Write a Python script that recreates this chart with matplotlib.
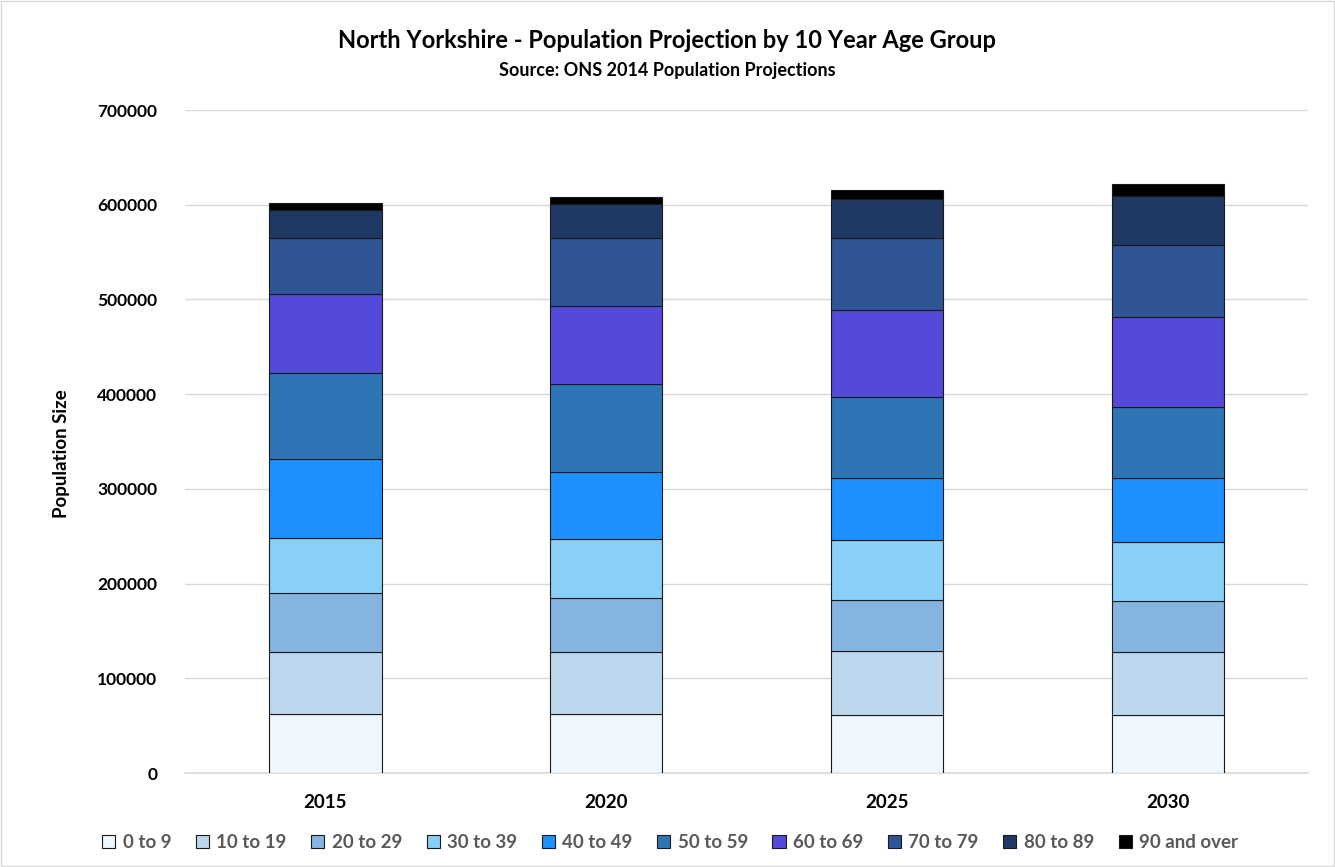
import matplotlib
matplotlib.use("Agg")
import matplotlib.pyplot as plt
import numpy as np
from matplotlib.patches import Rectangle

plt.rcParams["font.family"] = ["Lato", "DejaVu Sans"]

# Data
years = ["2015", "2020", "2025", "2030"]
age_groups = ["0 to 9", "10 to 19", "20 to 29", "30 to 39", "40 to 49",
              "50 to 59", "60 to 69", "70 to 79", "80 to 89", "90 and over"]
age_0_9 = [62600, 62000, 60900, 60900]
age_10_19 = [65500, 65400, 68200, 67200]
age_20_29 = [61700, 57300, 53200, 53200]
age_30_39 = [58700, 62600, 64000, 62300]
age_40_49 = [82800, 70100, 65200, 67900]
age_50_59 = [91100, 92900, 85500, 74700]
age_60_69 = [83100, 83000, 91900, 95300]
age_70_79 = [59400, 71500, 76000, 76300]
age_80_89 = [29900, 35600, 40900, 51700]
age_90_plus = [7400, 8000, 9800, 12300]

series = [age_0_9, age_10_19, age_20_29, age_30_39, age_40_49,
          age_50_59, age_60_69, age_70_79, age_80_89, age_90_plus]

colors = ["#EEF6FE", "#BDD7EE", "#85B4E0", "#89CFF8", "#1E90FF",
          "#2E75B6", "#534AD9", "#2F5597", "#203864", "#000000"]

fig = plt.figure(figsize=(13.35, 8.67), dpi=100)
ax = fig.add_axes([0.1386, 0.1084, 0.8414, 0.7647])

x = np.arange(len(years))
bottom = np.zeros(len(years))
for vals, col, lab in zip(series, colors, age_groups):
    ax.bar(x, vals, 0.40, bottom=bottom, color=col, edgecolor="#1a1a1a",
           linewidth=0.8, label=lab, zorder=3)
    bottom += np.array(vals)

ax.set_xlim(-0.5, 3.5)
ax.set_ylim(0, 700000)
ax.set_yticks(np.arange(0, 700001, 100000))
ax.set_xticks(x)
ax.set_xticklabels(years)
ax.tick_params(axis="both", length=0)
ax.tick_params(axis="y", pad=20, labelsize=12.5)
ax.tick_params(axis="x", pad=15, labelsize=13.5)
for t in ax.get_xticklabels() + ax.get_yticklabels():
    t.set_fontweight("bold")

ax.grid(axis="y", color="#d9d9d9", linewidth=1, zorder=0)
for s in ["top", "left", "right"]:
    ax.spines[s].set_visible(False)
ax.spines["bottom"].set_color("#d9d9d9")
ax.spines["bottom"].set_linewidth(1.2)

ax.set_ylabel("Population Size", fontsize=13.5, fontweight="bold")
ax.yaxis.set_label_coords(-0.102, 0.481)

fig.text(0.5, 0.953, "North Yorkshire - Population Projection by 10 Year Age Group",
         ha="center", va="center", fontsize=17, fontweight="bold")
fig.text(0.5, 0.919, "Source: ONS 2014 Population Projections",
         ha="center", va="center", fontsize=13, fontweight="bold")

leg = fig.legend(loc="center", bbox_to_anchor=(0.502, 0.028), ncol=10, frameon=False,
                 fontsize=13.5, handlelength=0.7, handleheight=0.7,
                 handletextpad=0.4, columnspacing=1.3)
for t in leg.get_texts():
    t.set_color("#595959")
    t.set_fontweight("bold")

# Chart area border
fig.patches.append(Rectangle((0.001, 0.001), 0.998, 0.998, transform=fig.transFigure,
                             fill=False, edgecolor="#d9d9d9", linewidth=1))

fig.savefig("out.png", dpi=100)
